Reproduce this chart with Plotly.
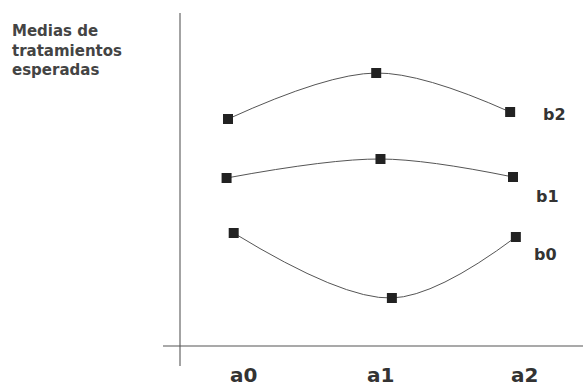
import plotly.graph_objects as go

# Data
series_names = ["b2", "b1", "b0"]
x_b2 = [0.0, 1.04, 1.98]
y_b2 = [22.7, 27.3, 23.4]
x_b1 = [-0.01, 1.07, 2.0]
y_b1 = [16.8, 18.7, 16.9]
x_b0 = [0.04, 1.15, 2.02]
y_b0 = [11.3, 4.8, 10.9]
tick_labels = ["a0", "a1", "a2"]
tick_pos = [0.11, 1.07, 2.08]
y_title = "Medias de<br>tratamientos<br>esperadas"

W, H = 583, 387
PX_PER_X = 142.5
X0_PX = 228
PX_PER_Y = 10
Y0_PX = 346


def xr(px):
    return (px - X0_PX) / PX_PER_X


def yr(py):
    return (Y0_PX - py) / PX_PER_Y


fig = go.Figure()
for name, xs, ys in [("b2", x_b2, y_b2), ("b1", x_b1, y_b1), ("b0", x_b0, y_b0)]:
    fig.add_trace(go.Scatter(
        x=xs, y=ys, mode="lines+markers", name=name,
        line=dict(color="#555555", width=1, shape="spline", smoothing=1.0),
        marker=dict(symbol="square", size=10, color="#222222"),
        showlegend=False, hoverinfo="skip",
    ))

# axis lines
fig.add_shape(type="line", x0=xr(180), x1=xr(180), y0=yr(366), y1=yr(13),
              line=dict(color="#666666", width=1.2))
fig.add_shape(type="line", x0=xr(163), x1=xr(583), y0=0, y1=0,
              line=dict(color="#555555", width=1.2))

label_font = dict(family="DejaVu Sans", size=16, color="#333333")
series_label_pos = {"b2": (xr(554), yr(114)), "b1": (xr(547), yr(196)), "b0": (xr(545), yr(254))}
for name in series_names:
    lx, ly = series_label_pos[name]
    fig.add_annotation(x=lx, y=ly, text="<b>%s</b>" % name, showarrow=False,
                       font=label_font, xanchor="center", yanchor="middle")

for t, p in zip(tick_labels, tick_pos):
    fig.add_annotation(x=p, y=yr(375), text="<b>%s</b>" % t, showarrow=False,
                       font=dict(family="DejaVu Sans", size=20, color="#333333"),
                       xanchor="center", yanchor="middle")

fig.add_annotation(x=10 / W, y=1 - 20 / H, xref="paper", yref="paper",
                   text="<b>%s</b>" % y_title, showarrow=False, align="left",
                   xanchor="left", yanchor="top",
                   font=dict(family="DejaVu Sans", size=15, color="#444444"))

fig.update_layout(
    width=W, height=H,
    margin=dict(l=0, r=0, t=0, b=0),
    paper_bgcolor="white", plot_bgcolor="white",
    xaxis=dict(range=[xr(0), xr(W)], visible=False, fixedrange=True),
    yaxis=dict(range=[yr(H), yr(0)], visible=False, fixedrange=True),
)

fig.write_html("out.html", post_script="document.body.style.margin='0';",
               config={"displayModeBar": False})
